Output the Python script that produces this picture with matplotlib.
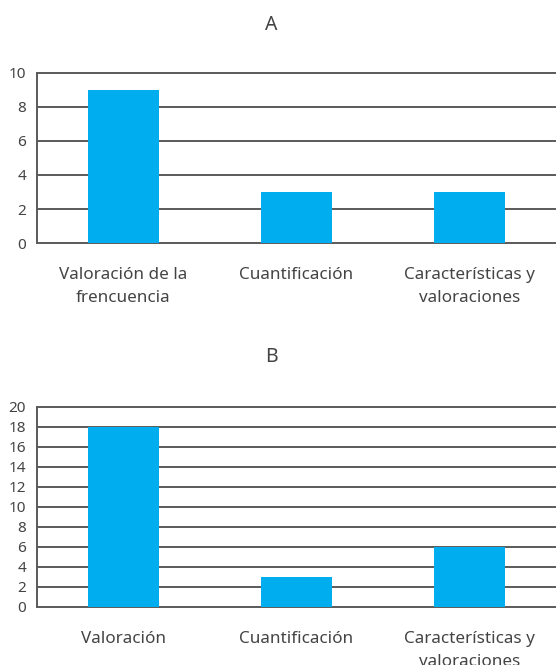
import matplotlib
matplotlib.use("Agg")
import matplotlib.pyplot as plt
import numpy as np

categories_a = ["Valoración de la\nfrencuencia", "Cuantificación", "Características y\nvaloraciones"]
values_a = [9, 3, 3]
yticks_a = [0, 2, 4, 6, 8, 10]

categories_b = ["Valoración", "Cuantificación", "Características y\nvaloraciones"]
values_b = [18, 3, 6]
yticks_b = list(range(0, 21, 2))

W, H = 556, 665
fig = plt.figure(figsize=(W / 100, H / 100), dpi=100)
plt.rcParams['font.family'] = ['Noto Sans', 'DejaVu Sans']

bar_color = "#00AEEF"
grid_color = "#5a5a5a"
text_color = "#444444"

def make_ax(top_px, bottom_px, cats, vals, yticks, title, title_y):
    left_px, right_px = 37, 556
    ax = fig.add_axes([left_px / W, 1 - bottom_px / H, (right_px - left_px) / W, (bottom_px - top_px) / H])
    x = np.arange(len(cats))
    ax.bar(x, vals, width=0.405, color=bar_color, zorder=3)
    ax.set_xlim(-0.5, len(cats) - 0.5)
    ax.set_ylim(yticks[0], yticks[-1])
    ax.set_yticks(yticks)
    ax.set_yticklabels([str(t) for t in yticks], fontsize=11, color=text_color)
    ax.set_xticks(x)
    ax.set_xticklabels(cats, fontsize=12.3, color=text_color, linespacing=1.55)
    ax.tick_params(axis='both', length=0)
    ax.tick_params(axis='x', pad=17.5)
    ax.tick_params(axis='y', pad=8)
    for t in yticks:
        ax.axhline(t, color=grid_color, linewidth=1.4, zorder=1, clip_on=False)
    for s in ['top', 'right', 'bottom']:
        ax.spines[s].set_visible(False)
    ax.spines['left'].set_color(grid_color)
    ax.spines['left'].set_linewidth(1.4)
    fig.text(271 / W, 1 - title_y / H, title, ha='center', va='center', fontsize=14,
             color=text_color)
    return ax

make_ax(73, 243, categories_a, values_a, yticks_a, "A", 25)
make_ax(407, 607, categories_b, values_b, yticks_b, "B", 357)

fig.savefig("out.png", dpi=100)
